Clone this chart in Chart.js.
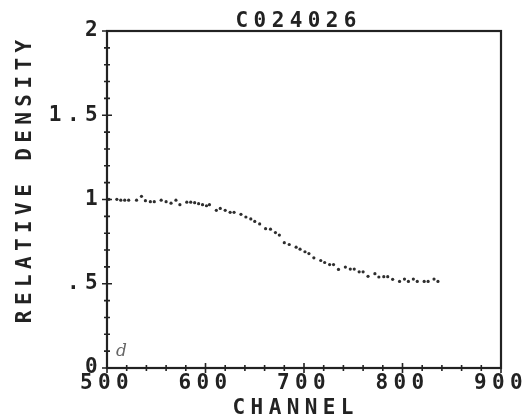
<!DOCTYPE html>
<html>
<head>
<meta charset="utf-8">
<title>C024026</title>
<script src="https://cdn.jsdelivr.net/npm/chart.js@4.4.1/dist/chart.umd.min.js"></script>
<style>
  html, body { margin: 0; padding: 0; background: #fff; }
  #wrap { width: 529px; height: 417px; }
</style>
</head>
<body>
<div id="wrap"><canvas id="c" width="529" height="417"></canvas></div>
<script>
// 读图得到的数据
const chartTitle = 'C024026';
const xAxisTitle = 'CHANNEL';
const yAxisTitle = 'RELATIVE DENSITY';

const channels = [502, 510, 514, 518, 522, 530, 535, 539, 544, 548,
  555, 560, 565, 570, 574, 581, 585, 589, 593, 597,
  601, 604, 611, 615, 620, 625, 629, 636, 641, 646,
  650, 655, 661, 666, 671, 675, 680, 685, 692, 696,
  701, 705, 710, 717, 721, 726, 730, 735, 742, 747,
  751, 756, 760, 765, 772, 776, 781, 785, 790, 797,
  802, 806, 811, 815, 822, 826, 832, 836];
const density = [1.001, 1.001, 0.996, 0.996, 0.996, 0.996, 1.019, 0.993, 0.987, 0.987,
  0.996, 0.987, 0.978, 0.996, 0.969, 0.984, 0.984, 0.981, 0.975, 0.969,
  0.963, 0.969, 0.936, 0.947, 0.936, 0.924, 0.924, 0.912, 0.896, 0.885,
  0.870, 0.855, 0.827, 0.824, 0.804, 0.789, 0.744, 0.733, 0.717, 0.705,
  0.690, 0.679, 0.654, 0.638, 0.626, 0.614, 0.614, 0.585, 0.599, 0.587,
  0.587, 0.571, 0.571, 0.544, 0.560, 0.540, 0.542, 0.542, 0.526, 0.514,
  0.528, 0.514, 0.528, 0.514, 0.514, 0.514, 0.528, 0.514];

const xMajorValues = [500, 600, 700, 800, 900];
const xMajorLabels = ['500', '600', '700', '800', '900'];
const yMajorValues = [0, 0.5, 1, 1.5, 2];
const yMajorLabels = ['0', '.5', '1', '1.5', '2'];
const annotationText = 'd';

const INK = '#222';
const FONT = 'DejaVu Sans Mono';
const SPACING = 5.4;

function labelFor(v, values, labels) {
  for (var i = 0; i < values.length; i++) {
    if (Math.abs(values[i] - v) < 1e-6) return labels[i];
  }
  return '';
}

// 居中绘制带字距的文字（去掉末尾多出的字距）
function spacedText(ctx, text, cx, y) {
  var w = ctx.measureText(text).width - SPACING;
  ctx.fillText(text, cx - w / 2, y);
}

// 边框、双向刻度、标题、手写标注
const plotterPlugin = {
  id: 'plotter',
  beforeDraw(chart) {
    chart.ctx.letterSpacing = SPACING + 'px';
  },
  afterDraw(chart) {
    var ctx = chart.ctx;
    var a = chart.chartArea;
    var xs = chart.scales.x;
    var ys = chart.scales.y;
    ctx.save();
    ctx.letterSpacing = '0px';
    ctx.strokeStyle = INK;
    ctx.lineWidth = 2.2;
    ctx.strokeRect(a.left, a.top, a.right - a.left, a.bottom - a.top);

    ctx.lineWidth = 1.6;
    ctx.beginPath();
    for (var v = 500; v <= 900; v += 20) {
      var px = xs.getPixelForValue(v);
      var len = v % 100 === 0 ? 5 : 3;
      ctx.moveTo(px, a.bottom - len);
      ctx.lineTo(px, a.bottom + len);
    }
    for (var k = 0; k <= 20; k++) {
      var py = ys.getPixelForValue(k / 10);
      var l2 = k % 5 === 0 ? 5 : 3;
      ctx.moveTo(a.left - l2, py);
      ctx.lineTo(a.left + l2, py);
    }
    ctx.stroke();

    // 标题和坐标轴名
    var midX = (a.left + a.right) / 2;
    var midY = (a.top + a.bottom) / 2;
    ctx.letterSpacing = SPACING + 'px';
    ctx.fillStyle = INK;
    ctx.font = 'bold 21px "' + FONT + '"';
    ctx.textAlign = 'left';
    ctx.textBaseline = 'alphabetic';
    spacedText(ctx, chartTitle, midX - 8, a.top - 4);
    spacedText(ctx, xAxisTitle, midX - 11, chart.height - 3);
    ctx.save();
    ctx.translate(31, midY - 18);
    ctx.rotate(-Math.PI / 2);
    spacedText(ctx, yAxisTitle, 0, 0);
    ctx.restore();

    ctx.letterSpacing = '0px';
    ctx.fillStyle = '#666';
    ctx.font = 'italic 17px "DejaVu Serif"';
    ctx.fillText(annotationText, a.left + 9, a.bottom - 12);
    ctx.restore();
  }
};

new Chart(document.getElementById('c'), {
  type: 'scatter',
  data: {
    datasets: [{
      label: yAxisTitle,
      data: channels.map((x, i) => ({ x: x, y: density[i] })),
      showLine: false,
      pointRadius: 1.6,
      pointHoverRadius: 1.6,
      pointBackgroundColor: '#2e2e2e',
      pointBorderWidth: 0
    }]
  },
  options: {
    responsive: false,
    animation: false,
    devicePixelRatio: 1,
    layout: { padding: { left: 0, right: 28, top: 31, bottom: 0 } },
    plugins: {
      legend: { display: false },
      tooltip: { enabled: false },
      title: { display: false }
    },
    scales: {
      x: {
        type: 'linear',
        min: 500,
        max: 900,
        afterFit: function(s) { s.height = 49; },
        grid: { display: false, drawTicks: false },
        border: { display: false },
        ticks: {
          stepSize: 20,
          autoSkip: false,
          maxRotation: 0,
          padding: 3,
          color: INK,
          font: { family: FONT, size: 21, weight: 'bold' },
          callback: function(v) { return labelFor(v, xMajorValues, xMajorLabels); }
        }
      },
      y: {
        type: 'linear',
        min: 0,
        max: 2,
        afterFit: function(s) { s.width = 107; },
        grid: { display: false, drawTicks: false },
        border: { display: false },
        ticks: {
          stepSize: 0.1,
          autoSkip: false,
          padding: 4,
          color: INK,
          font: { family: FONT, size: 21, weight: 'bold' },
          callback: function(v) { return labelFor(v, yMajorValues, yMajorLabels); }
        }
      }
    }
  },
  plugins: [plotterPlugin]
});
</script>
</body>
</html>
